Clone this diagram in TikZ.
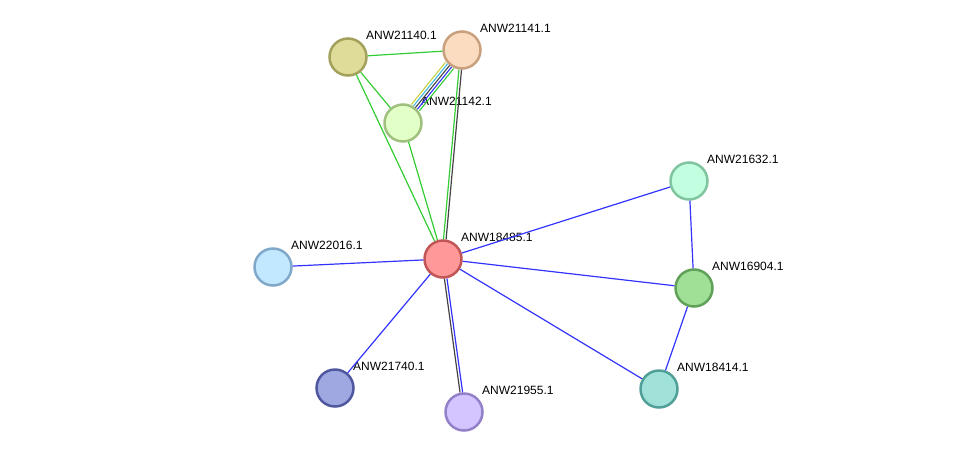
\documentclass[tikz,border=0pt]{standalone}
\usepackage{fontspec}
\setmainfont{Liberation Sans}

\definecolor{fillANW21140}{HTML}{DFDB98}\definecolor{lineANW21140}{HTML}{A3A15B}
\definecolor{fillANW21141}{HTML}{FCDCC0}\definecolor{lineANW21141}{HTML}{C8A07E}
\definecolor{fillANW21142}{HTML}{E2FFC8}\definecolor{lineANW21142}{HTML}{A0C080}
\definecolor{fillANW18485}{HTML}{FF9898}\definecolor{lineANW18485}{HTML}{C05656}
\definecolor{fillANW21632}{HTML}{C2FFE0}\definecolor{lineANW21632}{HTML}{80C4A0}
\definecolor{fillANW22016}{HTML}{C2E8FF}\definecolor{lineANW22016}{HTML}{80A8C8}
\definecolor{fillANW16904}{HTML}{A0E096}\definecolor{lineANW16904}{HTML}{60A058}
\definecolor{fillANW21740}{HTML}{A0A8E2}\definecolor{lineANW21740}{HTML}{5058A0}
\definecolor{fillANW21955}{HTML}{D4C4FF}\definecolor{lineANW21955}{HTML}{9480C8}
\definecolor{fillANW18414}{HTML}{A0E2DA}\definecolor{lineANW18414}{HTML}{50A098}

\definecolor{sgreen}{HTML}{33CC33}
\definecolor{sblue}{HTML}{3333FF}
\definecolor{sblack}{HTML}{444444}
\definecolor{syellow}{HTML}{C8D040}
\definecolor{scyan}{HTML}{40B8E0}

\tikzset{
  prot/.style={circle, minimum size=37pt, inner sep=0pt, line width=2.5pt},
  lbl/.style={anchor=base west, inner sep=0pt, font=\fontsize{12}{14}\selectfont},
  edge/.style={line width=1.2pt},
}

\begin{document}
\begin{tikzpicture}[x=1pt,y=-1pt]
    \useasboundingbox (0,0) rectangle (976,458);
    \foreach \n/\x/\y in {ANW21140/348/57, ANW21141/462/50, ANW21142/403/123,
      ANW18485/443/259, ANW21632/689/181, ANW22016/273/267, ANW16904/694/288,
      ANW21740/335/388, ANW21955/464/412, ANW18414/659/389}
    {
      \node[prot, fill=fill\n, draw=line\n] (\n) at (\x,\y) {};
      \node[lbl] (\n-t) at (\x+18,\y-18) {\n.1};
    }
    \draw[edge, sgreen] (ANW21140) -- (ANW21141);
    \draw[edge, sgreen] (ANW21140) -- (ANW21142);
    \draw[edge, sgreen] (ANW21140) -- (ANW18485);
    \draw[edge, sgreen] (ANW21142) -- (ANW18485);
    \foreach \c/\s in {syellow/-2, scyan/-1, sblack/0, sblue/1, sgreen/2}
    {
      \draw[edge, line width=1.1pt, \c, transform canvas={shift={(\s*2.0,\s*1.6)}}] (ANW21141) -- (ANW21142);
    }
    \draw[edge, sgreen, transform canvas={shift={(-1.3,0)}}] (ANW21141) -- (ANW18485);
    \draw[edge, sblack, transform canvas={shift={(1.3,0)}}] (ANW21141) -- (ANW18485);
    \draw[edge, sblack, transform canvas={shift={(-1.3,0)}}] (ANW18485) -- (ANW21955);
    \draw[edge, sblue, transform canvas={shift={(1.3,0)}}] (ANW18485) -- (ANW21955);
    \foreach \m in {ANW22016, ANW21740, ANW18414, ANW16904, ANW21632}
    {
      \draw[edge, sblue] (ANW18485) -- (\m);
    }
    \draw[edge, sblue] (ANW21632) -- (ANW16904);
    \draw[edge, sblue] (ANW16904) -- (ANW18414);
\end{tikzpicture}
\end{document}
